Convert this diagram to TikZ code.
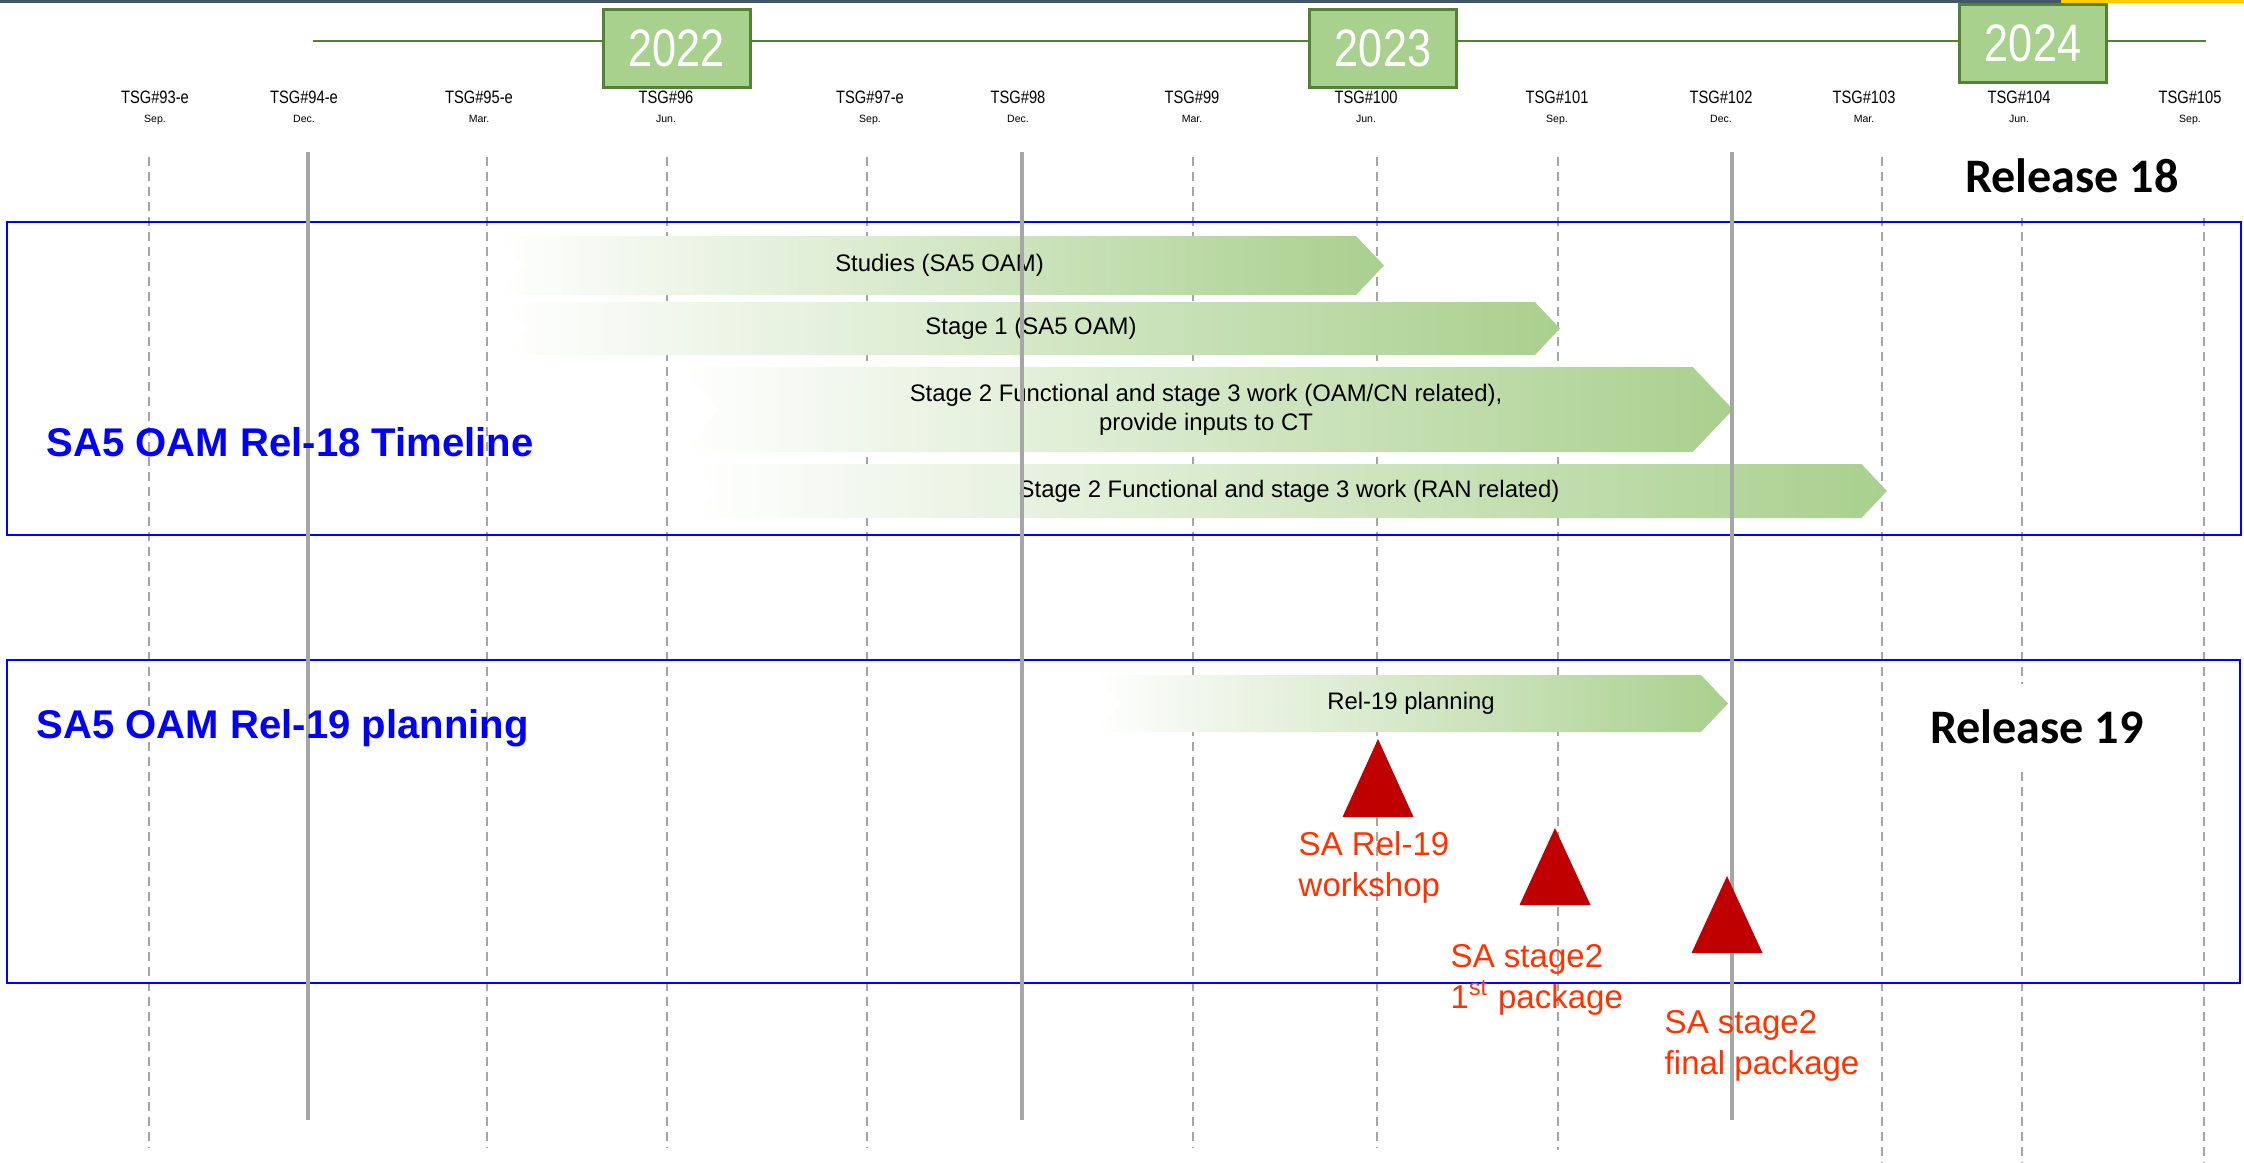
\documentclass[tikz,border=0pt]{standalone}
\usepackage{fontspec}
\setmainfont{Liberation Sans}
\newfontfamily\narrowfont[FakeStretch=0.82]{Liberation Sans}
\newfontfamily\releasefont{Carlito}
\usepackage{tikz}
\usetikzlibrary{positioning,shapes.symbols}
\definecolor{tlgreen}{RGB}{84,130,53}
\definecolor{yeargreen}{RGB}{169,209,142}
\definecolor{bargreen}{RGB}{169,208,142}
\definecolor{gridgray}{RGB}{166,166,166}
\definecolor{msred}{RGB}{192,0,0}
\definecolor{lblred}{RGB}{255,51,0}
\definecolor{slate}{RGB}{68,84,106}
\definecolor{topyellow}{RGB}{255,204,0}

\begin{document}
\begin{tikzpicture}[
    every node/.style={inner sep=0pt},
    yearbox/.style={rectangle, draw=tlgreen, line width=0.85pt, fill=yeargreen, text=white, font=\narrowfont\fontsize{15}{15}\selectfont, minimum width=1.47cm, minimum height=0.78cm},
    yearline/.style={draw=tlgreen, line width=0.6pt},
    meeting/.style={font=\narrowfont\fontsize{5.1}{6}\selectfont},
    month/.style={font=\fontsize{3}{3.6}\selectfont},
    gridline/.style={draw=gridgray, line width=0.6pt, dash pattern=on 0.09cm off 0.06cm},
    yearrule/.style={draw=gridgray, line width=1.4pt},
    relbox/.style={draw=blue, line width=0.8pt},
    chevron/.style={shape=signal, signal from=west, signal to=east, signal pointer angle=93, left color=white, right color=bargreen, align=center, font=\fontsize{6.8}{8.2}\selectfont},
    milestone/.style={fill=msred},
    mslabel/.style={anchor=north west, align=left, text=lblred, font=\fontsize{9.4}{11.7}\selectfont},
    reltitle/.style={anchor=base west, text=blue, font=\bfseries\fontsize{11.4}{13}\selectfont},
    release/.style={fill=white, font=\releasefont\bfseries\fontsize{13.7}{16}\selectfont}
]
\useasboundingbox (0,0) rectangle (22.44,-11.62);

% top strip
\fill[slate] (0,0) rectangle (20.61,-0.025);
\fill[topyellow] (20.61,0) rectangle (22.44,-0.025);

% years
\coordinate (linestart) at (3.13,-0.41);
\coordinate (lineend) at (22.06,-0.41);
\draw[yearline] (linestart) -- (lineend);
\node[yearbox] (y2022) at (6.765,-0.48) {2022};
\node[yearbox] (y2023) at (13.83,-0.48) {2023};
\node[yearbox] (y2024) at (20.33,-0.43) {2024};

% TSG meetings
\node[meeting] (tsg93) at (1.55,-0.97) {TSG\#93-e};
\node[month, below=0.1cm of tsg93] {Sep.};
\node[meeting] (tsg94) at (3.04,-0.97) {TSG\#94-e};
\node[month, below=0.1cm of tsg94] {Dec.};
\node[meeting] (tsg95) at (4.79,-0.97) {TSG\#95-e};
\node[month, below=0.1cm of tsg95] {Mar.};
\node[meeting] (tsg96) at (6.66,-0.97) {TSG\#96};
\node[month, below=0.1cm of tsg96] {Jun.};
\node[meeting] (tsg97) at (8.70,-0.97) {TSG\#97-e};
\node[month, below=0.1cm of tsg97] {Sep.};
\node[meeting] (tsg98) at (10.18,-0.97) {TSG\#98};
\node[month, below=0.1cm of tsg98] {Dec.};
\node[meeting] (tsg99) at (11.92,-0.97) {TSG\#99};
\node[month, below=0.1cm of tsg99] {Mar.};
\node[meeting] (tsg100) at (13.66,-0.97) {TSG\#100};
\node[month, below=0.1cm of tsg100] {Jun.};
\node[meeting] (tsg101) at (15.57,-0.97) {TSG\#101};
\node[month, below=0.1cm of tsg101] {Sep.};
\node[meeting] (tsg102) at (17.21,-0.97) {TSG\#102};
\node[month, below=0.1cm of tsg102] {Dec.};
\node[meeting] (tsg103) at (18.64,-0.97) {TSG\#103};
\node[month, below=0.1cm of tsg103] {Mar.};
\node[meeting] (tsg104) at (20.19,-0.97) {TSG\#104};
\node[month, below=0.1cm of tsg104] {Jun.};
\node[meeting] (tsg105) at (21.90,-0.97) {TSG\#105};
\node[month, below=0.1cm of tsg105] {Sep.};

% dashed meeting lines
\draw[gridline] (1.49,-1.57) -- (1.49,-11.47);
\draw[gridline] (4.87,-1.57) -- (4.87,-11.47);
\draw[gridline] (6.67,-1.57) -- (6.67,-11.47);
\draw[gridline] (8.67,-1.57) -- (8.67,-11.47);
\draw[gridline] (11.93,-1.57) -- (11.93,-11.47);
\draw[gridline] (13.77,-1.57) -- (13.77,-11.47);
\draw[gridline] (15.58,-1.57) -- (15.58,-11.50);
\draw[gridline] (18.82,-1.57) -- (18.82,-11.62);
\draw[gridline] (20.22,-1.57) -- (20.22,-11.62);
\draw[gridline] (22.04,-1.57) -- (22.04,-11.62);

% release frames
\draw[relbox] (0.07,-2.22) rectangle (22.41,-5.35);
\draw[relbox] (0.07,-6.60) rectangle (22.40,-9.83);

% Rel-18 work items
\node[chevron, minimum width=8.89cm, minimum height=0.59cm] (studies) at (9.395,-2.655) {Studies (SA5 OAM)};
\node[chevron, minimum width=10.58cm, minimum height=0.53cm] (stage1) at (10.31,-3.285) {Stage 1 (SA5 OAM)};
\node[chevron, minimum width=10.54cm, minimum height=0.85cm] (stage2cn) at (12.06,-4.095) {Stage 2 Functional and stage 3 work (OAM/CN related),\\provide inputs to CT};
\node[chevron, minimum width=11.96cm, minimum height=0.54cm] (stage2ran) at (12.89,-4.91) {Stage 2 Functional and stage 3 work (RAN related)};

% Rel-19 planning
\node[chevron, minimum width=6.34cm, minimum height=0.57cm] (rel19plan) at (14.11,-7.035) {Rel-19 planning};

% year end rules
\draw[yearrule] (3.08,-1.52) -- (3.08,-11.20);
\draw[yearrule] (10.22,-1.52) -- (10.22,-11.20);
\draw[yearrule] (17.32,-1.52) -- (17.32,-11.20);

% milestones
\coordinate (wshop) at (13.78,-7.39);
\coordinate (pkg1) at (15.55,-8.28);
\coordinate (pkgfin) at (17.27,-8.76);
\fill[milestone] (wshop) -- ++(0.355,-0.78) -- ++(-0.71,0) -- cycle;
\fill[milestone] (pkg1) -- ++(0.355,-0.77) -- ++(-0.71,0) -- cycle;
\fill[milestone] (pkgfin) -- ++(0.355,-0.77) -- ++(-0.71,0) -- cycle;
\node[mslabel] (wshoplbl) at (12.98,-8.31) {SA Rel-19\\workshop};
\node[mslabel] (pkg1lbl) at (14.50,-9.44) {SA stage2\\1\textsuperscript{st} package};
\node[mslabel] (pkgfinlbl) at (16.64,-10.10) {SA stage2\\final package};

% titles
\node[release, minimum width=3.3cm, minimum height=0.84cm] (rel18) at (20.72,-1.76) {Release 18};
\node[release, minimum width=2.9cm, minimum height=0.87cm] (rel19) at (20.37,-7.27) {Release 19};
\node[reltitle] (rel18title) at (0.46,-4.56) {SA5 OAM Rel-18 Timeline};
\node[reltitle] (rel19title) at (0.36,-7.38) {SA5 OAM Rel-19 planning};

\end{tikzpicture}
\end{document}
